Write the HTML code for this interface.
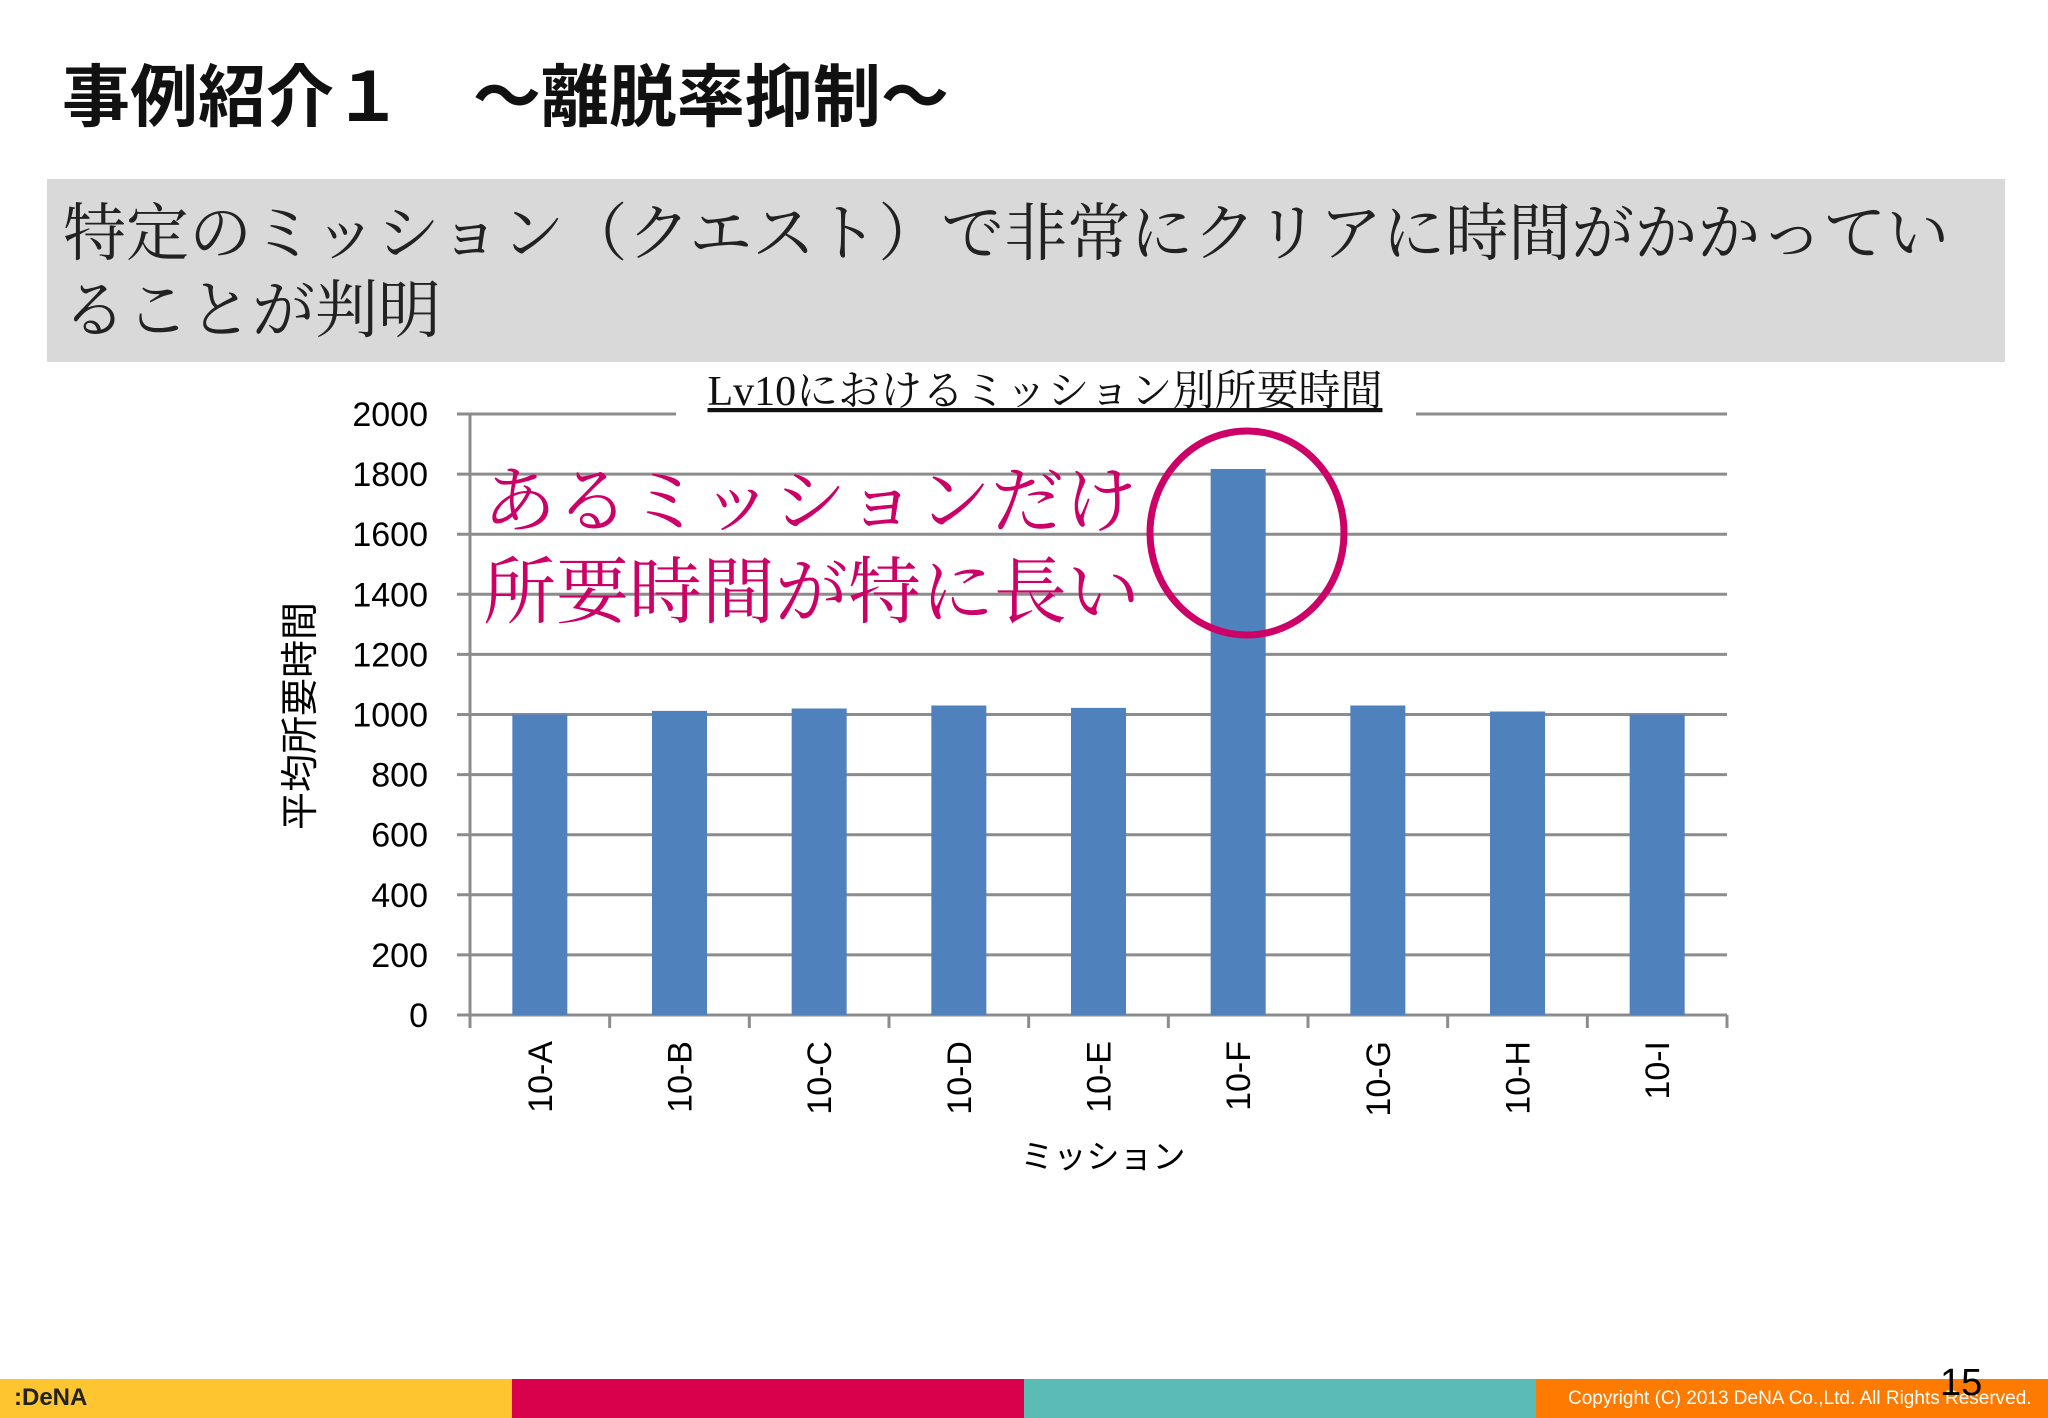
<!DOCTYPE html>
<html><head><meta charset="utf-8"><style>
body{margin:0;width:2048px;height:1418px;background:#fff;position:relative;overflow:hidden;font-family:"Liberation Sans","Noto Sans CJK JP",sans-serif}
.abs{position:absolute}
</style></head><body>
<div class="abs" style="left:62px;top:42px;font-family:'Liberation Sans','Noto Sans CJK JP',sans-serif;font-size:68px;font-weight:bold;color:#111;white-space:nowrap">事例紹介１<span style="display:inline-block;width:52px"></span> ～離脱率抑制～</div>
<div class="abs" style="left:47px;top:179px;width:1958px;height:183px;background:#d9d9d9"></div>
<div class="abs" style="left:63px;top:196px;width:1960px;font-family:'Liberation Serif','Noto Serif CJK SC',serif;font-size:63px;line-height:77px;color:#222;white-space:nowrap">特定のミッション（クエスト）で非常にクリアに時間がかかってい<br>ることが判明</div>
<svg class="abs" style="left:0;top:0" width="2048" height="1418" id="chart"></svg>
<div class="abs" style="left:0;top:1379px;width:2048px;height:39px;display:flex">
<div style="width:512px;background:#fdc52f"></div><div style="width:512px;background:#d9004c"></div><div style="width:512px;background:#5bbcb6"></div><div style="width:512px;background:#ff7a00"></div></div>
<div class="abs" style="left:14px;top:1384px;font-size:24px;font-weight:bold;color:#222">:DeNA</div>
<div class="abs" style="left:1568px;top:1388px;font-size:19px;color:#fff;white-space:nowrap">Copyright (C) 2013 DeNA Co.,Ltd. All Rights Reserved.</div>
<div class="abs" style="left:1940px;top:1362px;font-size:38px;color:#000">15</div>
<script>
const categories=["10-A","10-B","10-C","10-D","10-E","10-F","10-G","10-H","10-I"];
const values=[1000,1012,1020,1030,1022,1817,1030,1010,1000];
const yTicks=[0,200,400,600,800,1000,1200,1400,1600,1800,2000];
const NS="http://www.w3.org/2000/svg";
const svg=document.getElementById('chart');
const X0=470,X1=1727,Y0=1015,Y1=414,YMAX=2000;
const y=v=>Y0-(v/YMAX)*(Y0-Y1);
const bw=(X1-X0)/categories.length;
const x=i=>X0+bw*(i+0.5);
function mk(t,a,txt){const e=document.createElementNS(NS,t);for(const k in a)e.setAttribute(k,a[k]);if(txt!==undefined)e.textContent=txt;svg.appendChild(e);return e;}
yTicks.forEach(v=>{
 const g=mk('line',{x1:X0-13,x2:X1,y1:y(v),y2:y(v),stroke:'#8c8c8c','stroke-width':3});
 
 
 const t=mk('text',{x:428,y:y(v)+12,'text-anchor':'end','font-size':34,fill:'#000','font-family':'Liberation Sans, sans-serif'},v);
 
 
});
const ax=mk('line',{x1:X0,x2:X0,y1:Y1,y2:Y0+13,stroke:'#8c8c8c','stroke-width':3});


for(let i=0;i<=categories.length;i++){const tk=mk('line',{x1:X0+bw*i,x2:X0+bw*i,y1:Y0,y2:Y0+13,stroke:'#8c8c8c','stroke-width':3});
 
 }
const tb=mk('rect',{x:676,y:395,width:740,height:30,fill:'#fff'});


categories.forEach((c,i)=>{
 const r=mk('rect',{x:x(i)-27.5,y:y(values[i]),width:55,height:Y0-y(values[i]),fill:'#4f81bd'});
 
 
 const t=mk('text',{x:0,y:0,transform:`translate(${x(i)+12},1041) rotate(-90)`,'text-anchor':'end','font-size':34,fill:'#000'},c);
 
 
});
const ct=mk('text',{x:1045,y:405,'text-anchor':'middle','font-size':42,fill:'#111','font-family':'Liberation Serif, Noto Serif CJK SC, serif','text-decoration':'underline'},'Lv10におけるミッション別所要時間');


const yt=mk('text',{x:0,y:0,transform:'translate(313,716) rotate(-90)','text-anchor':'middle','font-size':38,fill:'#000'},'平均所要時間');


const xt=mk('text',{x:1103,y:1168,'text-anchor':'middle','font-size':33,fill:'#000'},'ミッション');


const a1=mk('text',{x:483,y:526,'font-size':73,fill:'#cc0066','font-family':'Liberation Serif, Noto Serif CJK SC, serif'},'あるミッションだけ');


const a2=mk('text',{x:483,y:617,'font-size':73,fill:'#cc0066','font-family':'Liberation Serif, Noto Serif CJK SC, serif'},'所要時間が特に長い');


const ci=mk('ellipse',{cx:1247,cy:533,rx:97,ry:102,fill:'none',stroke:'#cc0066','stroke-width':7});


</script>
</body></html>
